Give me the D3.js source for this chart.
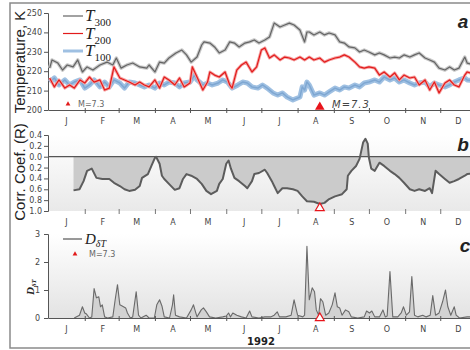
<!DOCTYPE html>
<html>
<head>
<meta charset="utf-8">
<script src="https://cdn.jsdelivr.net/npm/d3@7"></script>
<style>
  body { margin: 0; background: #fff; }
  svg { display: block; }
</style>
</head>
<body>
<svg id="chart" width="470" height="350"></svg>
<script>
// month labels and tick values
const months = ["J", "F", "M", "A", "M", "J", "J", "A", "S", "O", "N", "D"];
const tempTicks = [200, 210, 220, 230, 240, 250];
const corrTicks = [0.4, 0.2, 0, -0.2, -0.4, -0.6, -0.8, -1.0];
const dTicks = [0, 1, 2, 3];
const eventDay = 232;
const eventLabel = "M=7.3";
const yearLabel = "1992";

// [day of year, temperature K]
const t300 = [[1,221.6],[3,225.8],[8,224.2],[12,220.6],[16,223.2],[21,222.2],[25,225.8],[29,219.6],[33,222.2],[38,220.6],[44,223.2],[50,224.7],[55,223.2],[58,226.8],[62,221.6],[67,223.2],[72,224.2],[78,222.2],[84,221.6],[86,223.2],[91,219.6],[95,224.7],[99,224.2],[103,226.8],[109,229.4],[114,230.9],[118,228.4],[122,224.7],[127,227.3],[131,233.5],[133,235.1],[138,234.5],[142,232.5],[146,229.4],[151,230.9],[155,235.1],[159,234.5],[163,232.5],[168,234.5],[172,235.1],[176,236.1],[180,234.5],[185,236.1],[189,237.6],[193,244.8],[198,242.8],[202,243.8],[206,244.8],[210,243.8],[215,241.2],[219,235.1],[221,240.2],[223,240.2],[227,238.7],[232,240.2],[236,238.7],[240,239.7],[245,238.7],[249,235.1],[253,234.5],[257,232.5],[262,232],[266,229.9],[270,230.9],[274,229.9],[279,228.4],[283,229.4],[287,228.4],[292,226.8],[296,227.3],[300,226.8],[304,228.4],[309,227.3],[313,228.4],[317,229.4],[322,226.8],[326,225.8],[330,224.7],[334,221.6],[339,220.6],[343,222.2],[347,220.6],[351,221.6],[356,227.3],[358,224.2],[366,223]];

const t200 = [[1,216.5],[5,211.9],[9,215.5],[14,211.3],[18,212.9],[22,211.3],[27,215.5],[31,213.9],[35,217],[39,214.4],[44,215.5],[48,210.3],[52,211.3],[56,222.2],[61,216.5],[65,215.5],[69,214.4],[74,212.9],[78,214.4],[82,212.9],[86,211.9],[91,215.5],[95,211.3],[99,217],[103,215.5],[108,212.9],[112,216.5],[116,211.9],[121,213.9],[123,222.2],[127,217],[132,210.3],[136,214.4],[138,219.6],[142,218],[146,217],[151,219.6],[155,212.9],[157,211.3],[161,220.6],[165,223.2],[169,224.7],[174,219.6],[178,222.2],[182,230.9],[185,232],[189,226.8],[193,228.4],[198,225.8],[202,227.3],[206,226.8],[210,225.8],[215,227.3],[219,225.8],[223,227.3],[227,225.8],[232,226.8],[236,224.7],[240,225.8],[245,226.8],[249,227.3],[253,228.4],[257,227.3],[262,224.7],[266,222.2],[270,221.6],[274,222.2],[279,221.6],[283,218],[287,219.6],[292,217],[296,219.1],[300,215.5],[304,218],[309,216.5],[313,217],[317,212.9],[322,215.5],[326,210.3],[330,214.4],[334,208.8],[339,213.9],[343,215.5],[347,212.9],[351,211.9],[356,218],[358,219.6],[366,218]];

const t100 = [[1,214.4],[5,216.5],[9,212.9],[14,215.5],[18,212.9],[22,214.4],[27,215.5],[31,211.3],[35,212.9],[39,215.5],[44,211.9],[48,214.4],[52,211.9],[56,215.5],[61,213.9],[65,211.3],[69,214.4],[74,213.9],[78,212.9],[82,211.9],[86,212.9],[91,211.3],[95,213.9],[99,212.9],[103,214.4],[108,213.9],[112,211.9],[116,213.9],[121,214.4],[125,218],[127,215.5],[132,212.9],[136,213.9],[140,212.9],[145,213.9],[149,215.5],[153,214.4],[157,211.3],[162,212.9],[166,214.4],[170,213.9],[174,211.9],[179,211.3],[183,212.9],[187,211.3],[192,208.8],[196,207.7],[200,208.8],[204,206.7],[209,205.2],[213,206.2],[215,206.7],[217,211.9],[219,210.3],[221,214.4],[223,212.9],[227,207.7],[232,208.8],[236,207.7],[240,209.3],[245,211.3],[249,210.3],[253,211.9],[257,211.3],[262,212.9],[266,211.9],[270,213.9],[274,214.4],[279,215.5],[283,214.4],[287,217],[292,215.5],[296,216.5],[300,214.4],[304,215.5],[309,213.9],[313,212.9],[317,213.9],[322,214.4],[326,211.9],[330,213.9],[334,212.9],[339,211.9],[343,212.9],[347,214.4],[351,215.5],[356,216.5],[358,215.5],[366,215]];

// [day of year, correlation coefficient R]
const corr = [[21.4,-0.62],[26.5,-0.60],[30,-0.45],[33,-0.26],[37,-0.22],[41,-0.39],[46,-0.41],[52,-0.41],[56,-0.48],[61,-0.54],[65,-0.60],[69,-0.63],[74,-0.61],[78,-0.54],[80,-0.39],[85,-0.32],[88,-0.17],[91,-0.02],[92,0],[95,-0.13],[97,-0.35],[99,-0.41],[103,-0.50],[108,-0.61],[112,-0.58],[115,-0.41],[118,-0.32],[122,-0.35],[127,-0.41],[131,-0.50],[135,-0.63],[139,-0.69],[144,-0.63],[146,-0.50],[149,-0.41],[152,-0.13],[154,-0.07],[156,-0.22],[159,-0.39],[163,-0.45],[168,-0.54],[170,-0.58],[174,-0.45],[176,-0.32],[180,-0.30],[185,-0.24],[187,-0.30],[191,-0.45],[193,-0.54],[196,-0.67],[200,-0.58],[204,-0.58],[209,-0.60],[213,-0.63],[217,-0.73],[221,-0.82],[227,-0.83],[232,-0.87],[236,-0.85],[240,-0.78],[245,-0.73],[251,-0.69],[255,-0.60],[256,-0.35],[259,-0.26],[263,-0.17],[266,-0.04],[269,0.26],[271,0.33],[273,0.24],[274,-0.02],[276,-0.22],[279,-0.26],[283,-0.11],[287,-0.17],[292,-0.26],[296,-0.32],[300,-0.39],[304,-0.48],[309,-0.60],[313,-0.63],[317,-0.60],[322,-0.63],[326,-0.58],[328,-0.67],[331,-0.26],[334,-0.32],[339,-0.41],[343,-0.48],[347,-0.45],[351,-0.41],[356,-0.35],[358,-0.32],[366,-0.30]];

// [day of year, D_dT]
const dT = [[22,0],[26.5,0.1],[29,0.4],[31,0.18],[32.5,0.14],[35,0],[37,0.04],[39,1.05],[41,0.72],[43,0.76],[44.5,0.4],[46,0.47],[48,0.04],[50.5,0],[55,0.04],[57,0.65],[59,1.19],[61,0.47],[63,0.43],[66,0.36],[67.5,0.18],[70,0],[72,0.04],[75,0.94],[77,0.1],[79,0],[83.5,0.1],[86,0],[90.5,0],[92.6,0.47],[95,0.65],[97,0.43],[99,0.04],[103.5,0],[106,0.47],[107,0.83],[108.6,0.1],[112,0.04],[118,0],[122,0.29],[124,0.47],[125.7,0.22],[127,0.04],[130.6,0.29],[132.5,0.36],[135,0.22],[137.7,0.04],[143,0],[149,0.04],[152,0.07],[154,0.18],[155.6,0.04],[157.6,0.18],[161,0.1],[165,0.04],[169,0],[172,0.25],[174,0.04],[180,0],[185,0.04],[190,0.04],[193,0.1],[195.6,0.22],[197.5,0.04],[203,0.04],[207.5,0.1],[210,0.65],[213,0.1],[217.5,0.04],[219,0.1],[221,2.56],[223,0.65],[225.5,1.08],[227.5,0.94],[229,0.29],[231,0.1],[232.6,0.69],[234.6,0.58],[237,0.1],[239.7,0.18],[242.6,0.47],[245,0.9],[247,0.4],[249,0.36],[251,0.1],[254,0.29],[256.8,0.22],[259,0.04],[264.5,0],[270,0.04],[272,0.25],[274.5,0.18],[276.5,0.25],[279,0.04],[283,0.04],[286,0.29],[288,0.04],[289.6,0.07],[292,1.66],[294.4,0.04],[298.7,0.04],[301.6,0.18],[303.6,0.4],[306,0.1],[308.7,0.22],[310.7,1.48],[313,0.1],[315.8,0.04],[320,0.1],[323,0.04],[326.4,0.1],[328.6,0.8],[331,0.1],[334,0.18],[337,0.58],[339.5,1.0],[341.5,0.4],[344,0.1],[347,0.4],[348.6,0.1],[351.5,0],[358,0.04],[366,0.04]];

const svg = d3.select("#chart");
const W = 470, H = 350;
const axisX = 48;

svg.append("rect").attr("width", W).attr("height", H).attr("fill", "#fff");

const start = new Date(1992, 0, 1), end = new Date(1993, 0, 1);
const toDate = d => new Date(start.getTime() + d * 864e5);
const x = d3.scaleTime().domain([start, end]).range([48.5, 476.5]);

const monthStarts = d3.timeMonth.range(start, end);
const monthMids = monthStarts.map(m => new Date(m.getFullYear(), m.getMonth(), 16));

const defs = svg.append("defs");
function vGrad(id, c0, c1) {
  const g = defs.append("linearGradient").attr("id", id)
    .attr("x1", 0).attr("y1", 0).attr("x2", 0).attr("y2", 1);
  g.append("stop").attr("offset", "0%").attr("stop-color", c0);
  g.append("stop").attr("offset", "100%").attr("stop-color", c1);
}
vGrad("bgB", "#ffffff", "#e9e9e9");
vGrad("bgC", "#ffffff", "#e3e3e3");

const yT = d3.scaleLinear().domain([200, 250]).range([110, 13]);
const yR = d3.scaleLinear().domain([-1, 0.4]).range([211, 135]);
const yD = d3.scaleLinear().domain([0, 3]).range([318, 234]);

// plot backgrounds
svg.append("rect").attr("x", axisX).attr("y", yR(0.4)).attr("width", W - axisX)
  .attr("height", yR(-1) - yR(0.4)).attr("fill", "url(#bgB)");
svg.append("rect").attr("x", axisX).attr("y", yD(3)).attr("width", W - axisX)
  .attr("height", yD(0) - yD(3)).attr("fill", "url(#bgC)");

function styleAxis(g) {
  g.selectAll(".domain").attr("stroke", "#555").attr("stroke-width", 1);
  g.selectAll(".tick line").attr("stroke", "#555");
  g.selectAll("text").attr("fill", "#444").style("font-family", "DejaVu Sans")
    .style("font-size", "8px");
}

function monthAxis(yPos, showDomain, lineColor) {
  const g = svg.append("g").attr("transform", `translate(0,${yPos})`)
    .call(d3.axisBottom(x).tickValues(monthStarts.slice(1)).tickFormat("")
      .tickSizeInner(3).tickSizeOuter(0));
  g.select(".domain").attr("stroke", showDomain ? lineColor : "none");
  g.selectAll(".tick line").attr("stroke", lineColor).attr("y1", -2);
  const lab = svg.append("g").attr("transform", `translate(0,${yPos})`)
    .call(d3.axisBottom(x).tickValues(monthMids).tickSize(0).tickPadding(8)
      .tickFormat((d, i) => months[i]));
  lab.select(".domain").remove();
  lab.selectAll("text").attr("fill", "#444").style("font-family", "DejaVu Sans")
    .style("font-size", "8px");
}

// ---------- panel a ----------
monthAxis(110, true, "#555");
svg.append("g").attr("transform", `translate(${axisX},0)`)
  .call(d3.axisLeft(yT).tickValues(tempTicks).tickSize(4).tickPadding(2))
  .call(styleAxis);

const lineT = d3.line().x(d => x(toDate(d[0]))).y(d => yT(d[1]));
const gA = svg.append("g");
gA.append("path").datum(t300).attr("d", lineT).attr("fill", "none")
  .attr("stroke", "#c9c9c9").attr("stroke-width", 3.5).attr("stroke-linejoin", "round");
gA.append("path").datum(t300).attr("d", lineT).attr("fill", "none")
  .attr("stroke", "#646464").attr("stroke-width", 1.2).attr("stroke-linejoin", "round");
gA.append("path").datum(t100).attr("d", lineT).attr("fill", "none")
  .attr("stroke", "#9fc0e2").attr("stroke-width", 5).attr("stroke-linejoin", "round");
gA.append("path").datum(t100).attr("d", lineT).attr("fill", "none")
  .attr("stroke", "#7ea7d2").attr("stroke-width", 1.5).attr("stroke-linejoin", "round");
gA.append("path").datum(t200).attr("d", lineT).attr("fill", "none")
  .attr("stroke", "#f5a3a3").attr("stroke-width", 3).attr("stroke-linejoin", "round");
gA.append("path").datum(t200).attr("d", lineT).attr("fill", "none")
  .attr("stroke", "#e21b1b").attr("stroke-width", 1.2).attr("stroke-linejoin", "round");

// legend a
const legA = [
  { sub: "300", color: "#646464", halo: "#c9c9c9", w: 1.2 },
  { sub: "200", color: "#e21b1b", halo: "#f5a3a3", w: 1.2 },
  { sub: "100", color: "#9fc0e2", halo: "#9fc0e2", w: 3 }
];
legA.forEach((d, i) => {
  const ly = 16 + i * 17.5;
  svg.append("line").attr("x1", 63).attr("x2", 83).attr("y1", ly).attr("y2", ly)
    .attr("stroke", d.color).attr("stroke-width", d.w);
  const t = svg.append("text").attr("x", 85).attr("y", ly + 5)
    .style("font-family", "Liberation Serif").style("font-style", "italic")
    .style("font-size", "17px").attr("fill", "#222");
  t.append("tspan").text("T");
  t.append("tspan").attr("dy", 5).style("font-size", "11px").style("font-style", "normal").text(d.sub);
});
svg.append("path").attr("d", d3.symbol(d3.symbolTriangle, 10)())
  .attr("transform", "translate(68,104)").attr("fill", "#e21b1b");
svg.append("text").attr("x", 78).attr("y", 107).text(eventLabel)
  .style("font-family", "DejaVu Sans").style("font-size", "8px").attr("fill", "#666");

// event marker a
svg.append("path").attr("d", d3.symbol(d3.symbolTriangle, 40)())
  .attr("transform", `translate(${x(toDate(eventDay))},107)`).attr("fill", "#e8141b");
svg.append("text").attr("x", 332).attr("y", 108).text(eventLabel)
  .style("font-family", "DejaVu Sans").style("font-style", "italic")
  .style("font-size", "10px").style("letter-spacing", "1px").attr("fill", "#444");

svg.append("text").attr("transform", "translate(25,62) rotate(-90)")
  .attr("text-anchor", "middle").text("Temperature, K")
  .style("font-family", "Liberation Sans").style("font-size", "15px").attr("fill", "#222");

// ---------- panel b ----------
const areaR = d3.area().x(d => x(toDate(d[0]))).y0(yR(0)).y1(d => yR(d[1]));
const lineR = d3.line().x(d => x(toDate(d[0]))).y(d => yR(d[1]));
svg.append("path").datum(corr).attr("d", areaR).attr("fill", "#cbcbcb");
svg.append("line").attr("x1", axisX).attr("x2", W).attr("y1", yR(0)).attr("y2", yR(0))
  .attr("stroke", "#555").attr("stroke-width", 1.2);
svg.append("path").datum(corr).attr("d", lineR).attr("fill", "none")
  .attr("stroke", "#5c5c5c").attr("stroke-width", 2).attr("stroke-linejoin", "round");

monthAxis(yR(-1), false, "#777");
svg.append("g").attr("transform", `translate(${axisX},0)`)
  .call(d3.axisLeft(yR).tickValues(corrTicks).tickSize(4).tickPadding(2)
    .tickFormat(d => Math.abs(d).toFixed(1)))
  .call(styleAxis);

svg.append("path").attr("d", d3.symbol(d3.symbolTriangle, 34)())
  .attr("transform", `translate(${x(toDate(eventDay))},${yR(-1) - 3})`)
  .attr("fill", "#fff").attr("stroke", "#e8141b").attr("stroke-width", 1.2);

svg.append("text").attr("transform", "translate(25,172) rotate(-90)")
  .attr("text-anchor", "middle").text("Corr. Coef. (R)")
  .style("font-family", "Liberation Sans").style("font-size", "15px").attr("fill", "#222");

// ---------- panel c ----------
const areaD = d3.area().x(d => x(toDate(d[0]))).y0(yD(0)).y1(d => yD(d[1]));
const lineD = d3.line().x(d => x(toDate(d[0]))).y(d => yD(d[1]));
svg.append("path").datum(dT).attr("d", areaD).attr("fill", "#d2d2d2");
svg.append("path").datum(dT).attr("d", lineD).attr("fill", "none")
  .attr("stroke", "#6a6a6a").attr("stroke-width", 1.1).attr("stroke-linejoin", "round");

monthAxis(yD(0), true, "#555");
svg.append("g").attr("transform", `translate(${axisX},0)`)
  .call(d3.axisLeft(yD).tickValues(dTicks).tickSize(4).tickPadding(4)
    .tickFormat(d3.format("d")))
  .call(styleAxis);

svg.append("path").attr("d", d3.symbol(d3.symbolTriangle, 34)())
  .attr("transform", `translate(${x(toDate(eventDay))},${yD(0)})`)
  .attr("fill", "#fff").attr("stroke", "#e8141b").attr("stroke-width", 1.2);

// legend c
svg.append("line").attr("x1", 63).attr("x2", 82).attr("y1", 239).attr("y2", 239)
  .attr("stroke", "#555").attr("stroke-width", 1.2);
const tc = svg.append("text").attr("x", 85).attr("y", 244)
  .style("font-family", "Liberation Serif").style("font-style", "italic")
  .style("font-size", "15px").attr("fill", "#222");
tc.append("tspan").text("D");
tc.append("tspan").attr("dy", 3).style("font-size", "10px").text("δT");
svg.append("path").attr("d", d3.symbol(d3.symbolTriangle, 10)())
  .attr("transform", "translate(75,254)").attr("fill", "#e21b1b");
svg.append("text").attr("x", 89).attr("y", 257).text(eventLabel)
  .style("font-family", "DejaVu Sans").style("font-size", "8px").attr("fill", "#666");

const yl = svg.append("text").attr("transform", "translate(34,287) rotate(-90)")
  .attr("text-anchor", "middle").style("font-family", "Liberation Serif")
  .style("font-style", "italic").style("font-weight", "bold").style("font-size", "11px")
  .attr("fill", "#222");
yl.append("tspan").text("D");
yl.append("tspan").attr("dy", 2).style("font-size", "7px").text("δT");

svg.append("text").attr("x", 261).attr("y", 345).attr("text-anchor", "middle").text(yearLabel)
  .style("font-family", "DejaVu Sans").style("font-weight", "bold").style("font-size", "10px")
  .attr("fill", "#222");

// panel letters
[["a", 463, 28], ["b", 463, 151], ["c", 465, 252]].forEach(([s, lx, ly]) => {
  svg.append("text").attr("x", lx).attr("y", ly).attr("text-anchor", "middle").text(s)
    .style("font-family", "Liberation Sans").style("font-style", "italic")
    .style("font-weight", "bold").style("font-size", "19px").attr("fill", "#222");
});

// outer frame
svg.append("rect").attr("x", 10).attr("y", 3).attr("width", W).attr("height", 345)
  .attr("fill", "none").attr("stroke", "#8a8a8a").attr("stroke-width", 1.5);
</script>
</body>
</html>
